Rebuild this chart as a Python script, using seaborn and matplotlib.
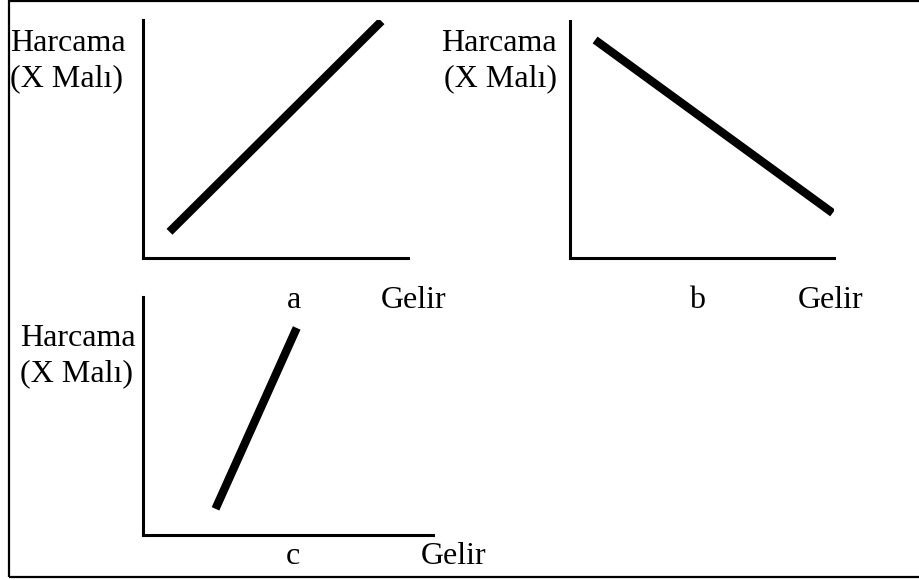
import matplotlib
matplotlib.use("Agg")
import matplotlib.pyplot as plt
import seaborn as sns
import pandas as pd
from matplotlib.patches import Rectangle

# ---- data (axes run 0..10 both ways) ----
a_gelir = [1.0, 9.0]
a_harcama = [1.1, 9.95]
b_gelir = [0.95, 9.95]
b_harcama = [9.2, 1.9]
c_gelir = [2.5, 5.3]
c_harcama = [1.1, 8.7]

ylabel = "Harcama\n(X Malı)"
xlabel = "Gelir"
panel_names = ["a", "b", "c"]

sns.set_style("white")
plt.rcParams["font.family"] = ["Liberation Serif", "DejaVu Serif"]
plt.rcParams["text.color"] = "black"

W, H = 920, 580
fig = plt.figure(figsize=(W / 100, H / 100), dpi=100)

def px_axes(x0, x1, ytop, ybot):
    return fig.add_axes([x0 / W, 1 - ybot / H, (x1 - x0) / W, (ybot - ytop) / H])

def setup(ax):
    ax.set_xlim(0, 10)
    ax.set_ylim(0, 10)
    ax.set_xticks([])
    ax.set_yticks([])
    ax.set_xlabel("")
    ax.set_ylabel("")
    sns.despine(ax=ax)
    for s in ["left", "bottom"]:
        ax.spines[s].set_linewidth(2.2)
        ax.spines[s].set_color("black")
    ax.patch.set_alpha(0)

fs = 23
ax_a = px_axes(143, 408, 20, 258)
ax_b = px_axes(570, 834, 21, 258)
ax_c = px_axes(143, 433, 297, 535)

df_a = pd.DataFrame({"gelir": a_gelir, "harcama": a_harcama})
df_b = pd.DataFrame({"gelir": b_gelir, "harcama": b_harcama})
df_c = pd.DataFrame({"gelir": c_gelir, "harcama": c_harcama})

for ax, df in [(ax_a, df_a), (ax_b, df_b), (ax_c, df_c)]:
    sns.lineplot(data=df, x="gelir", y="harcama", ax=ax, color="black",
                 linewidth=6, sort=False, solid_capstyle="butt")
    setup(ax)

# y labels
ls = 1.25
fig.text(10 / W, 1 - 61 / H, ylabel, ha="left", va="center", fontsize=fs,
         linespacing=ls)
fig.text(557 / W, 1 - 61 / H, ylabel, ha="right", va="center", fontsize=fs,
         linespacing=ls, multialignment="right")
fig.text(20 / W, 1 - 356 / H, ylabel, ha="left", va="center", fontsize=fs,
         linespacing=ls)

# panel letters and x labels
fig.text(294 / W, 1 - 300 / H, panel_names[0], ha="center", va="center", fontsize=fs)
fig.text(414 / W, 1 - 300 / H, xlabel, ha="center", va="center", fontsize=fs)
fig.text(697 / W, 1 - 300 / H, panel_names[1], ha="center", va="center", fontsize=fs)
fig.text(831 / W, 1 - 300 / H, xlabel, ha="center", va="center", fontsize=fs)
fig.text(293 / W, 1 - 556 / H, panel_names[2], ha="center", va="center", fontsize=fs)
fig.text(454 / W, 1 - 556 / H, xlabel, ha="center", va="center", fontsize=fs)

# frame around the whole figure (right side falls outside the image)
fig.patches.append(Rectangle((8.5 / W, 1 - 576.5 / H), 1.2, 576 / H,
                             transform=fig.transFigure, fill=False,
                             edgecolor="black", linewidth=1.6))

fig.savefig("out.png", dpi=100)
